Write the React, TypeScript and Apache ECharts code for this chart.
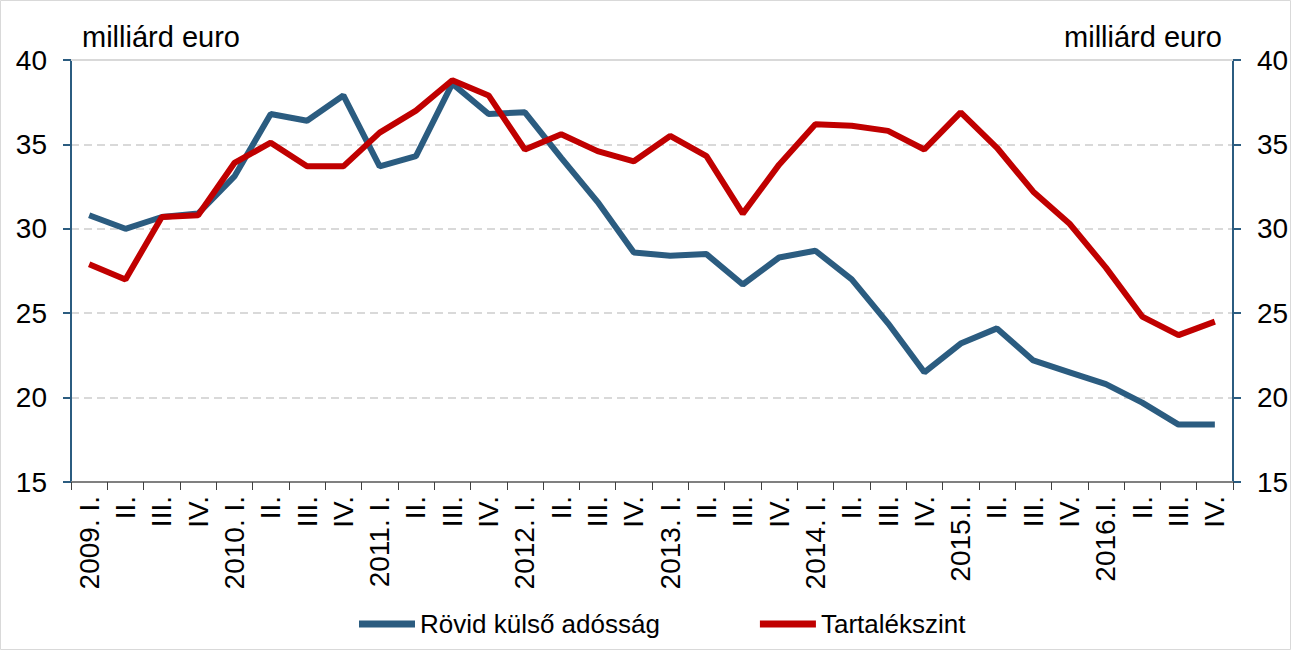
import React, { useEffect, useRef } from "react";
import * as echarts from "echarts";

const categories = [
  "2009. I.", "II.", "III.", "IV.",
  "2010. I.", "II.", "III.", "IV.",
  "2011. I.", "II.", "III.", "IV.",
  "2012. I.", "II.", "III.", "IV.",
  "2013. I.", "II.", "III.", "IV.",
  "2014. I.", "II.", "III.", "IV.",
  "2015.I.", "II.", "III.", "IV.",
  "2016.I.", "II.", "III.", "IV.",
];

const shortDebt = [
  30.8, 30.0, 30.7, 30.9,
  33.1, 36.8, 36.4, 37.9,
  33.7, 34.3, 38.6, 36.8,
  36.9, 34.2, 31.6, 28.6,
  28.4, 28.5, 26.7, 28.3,
  28.7, 27.0, 24.4, 21.5,
  23.2, 24.1, 22.2, 21.5,
  20.8, 19.7, 18.4, 18.4,
];

const reserves = [
  27.9, 27.0, 30.7, 30.8,
  33.9, 35.1, 33.7, 33.7,
  35.7, 37.0, 38.8, 37.9,
  34.7, 35.6, 34.6, 34.0,
  35.5, 34.3, 30.9, 33.8,
  36.2, 36.1, 35.8, 34.7,
  36.9, 34.8, 32.2, 30.3,
  27.7, 24.8, 23.7, 24.5,
];

const seriesNames = ["Rövid külső adósság", "Tartalékszint"];
const unitLabel = "milliárd euro";

const BLUE = "#2B5C80";
const RED = "#C00000";
const FONT = "Liberation Sans, Arial, sans-serif";

export default function App() {
  const ref = useRef<HTMLDivElement>(null);

  useEffect(() => {
    document.body.style.margin = "0";
    if (!ref.current) return;
    const chart = echarts.init(ref.current, null, { renderer: "svg" });
    const yAxisCommon = {
      type: "value",
      min: 15,
      max: 40,
      interval: 5,
      axisLine: { show: true, lineStyle: { color: BLUE, width: 2 } },
      axisTick: { show: true, length: 8, lineStyle: { color: BLUE, width: 2 } },
    };
    chart.setOption({
      animation: false,
      backgroundColor: "#ffffff",
      textStyle: { fontFamily: FONT },
      grid: { left: 71, right: 59, top: 60, bottom: 169, containLabel: false },
      legend: {
        data: seriesNames,
        left: 359,
        top: 611,
        padding: 0,
        itemWidth: 56,
        itemHeight: 7,
        itemGap: 100,
        icon: "rect",
        textStyle: { fontSize: 26, color: "#000", fontFamily: FONT },
      },
      xAxis: [
        {
          type: "category",
          data: categories,
          boundaryGap: true,
          axisLine: { show: true, lineStyle: { color: "#808080", width: 2 } },
          axisTick: { show: true, length: 8, interval: 0, lineStyle: { color: "#404040", width: 1 } },
          axisLabel: {
            interval: 0,
            rotate: 90,
            margin: 14,
            fontSize: 28,
            color: "#000",
            fontFamily: FONT,
          },
        },
        {
          type: "category",
          data: categories,
          position: "top",
          axisLine: { show: true, lineStyle: { color: "#d9d9d9", width: 2 } },
          axisTick: { show: false },
          axisLabel: { show: false },
        },
      ],
      yAxis: [
        {
          ...yAxisCommon,
          position: "left",
          axisLabel: { fontSize: 28, color: "#000", margin: 24, fontFamily: FONT },
          splitLine: { show: true, lineStyle: { color: "#d9d9d9", type: [8, 5], width: 2 } },
        },
        {
          ...yAxisCommon,
          position: "right",
          axisLabel: { fontSize: 28, color: "#000", margin: 24, fontFamily: FONT },
          splitLine: { show: false },
        },
      ],
      graphic: [
        {
          type: "rect",
          shape: { x: 0.5, y: 0.5, width: 1290, height: 649 },
          style: { fill: "none", stroke: "#d9d9d9", lineWidth: 1 },
          silent: true,
        },
        {
          type: "text",
          left: 82,
          top: 22,
          style: { text: unitLabel, fontSize: 29, fill: "#000", fontFamily: FONT },
        },
        {
          type: "text",
          right: 70,
          top: 22,
          style: { text: unitLabel, fontSize: 29, fill: "#000", fontFamily: FONT },
        },
      ],
      series: [
        {
          name: seriesNames[0],
          type: "line",
          data: shortDebt,
          yAxisIndex: 0,
          symbol: "none",
          lineStyle: { color: BLUE, width: 6 },
          itemStyle: { color: BLUE },
        },
        {
          name: seriesNames[1],
          type: "line",
          data: reserves,
          yAxisIndex: 0,
          symbol: "none",
          lineStyle: { color: RED, width: 6 },
          itemStyle: { color: RED },
        },
      ],
    });
    return () => chart.dispose();
  }, []);

  return <div ref={ref} style={{ width: 1292, height: 651 }} />;
}
